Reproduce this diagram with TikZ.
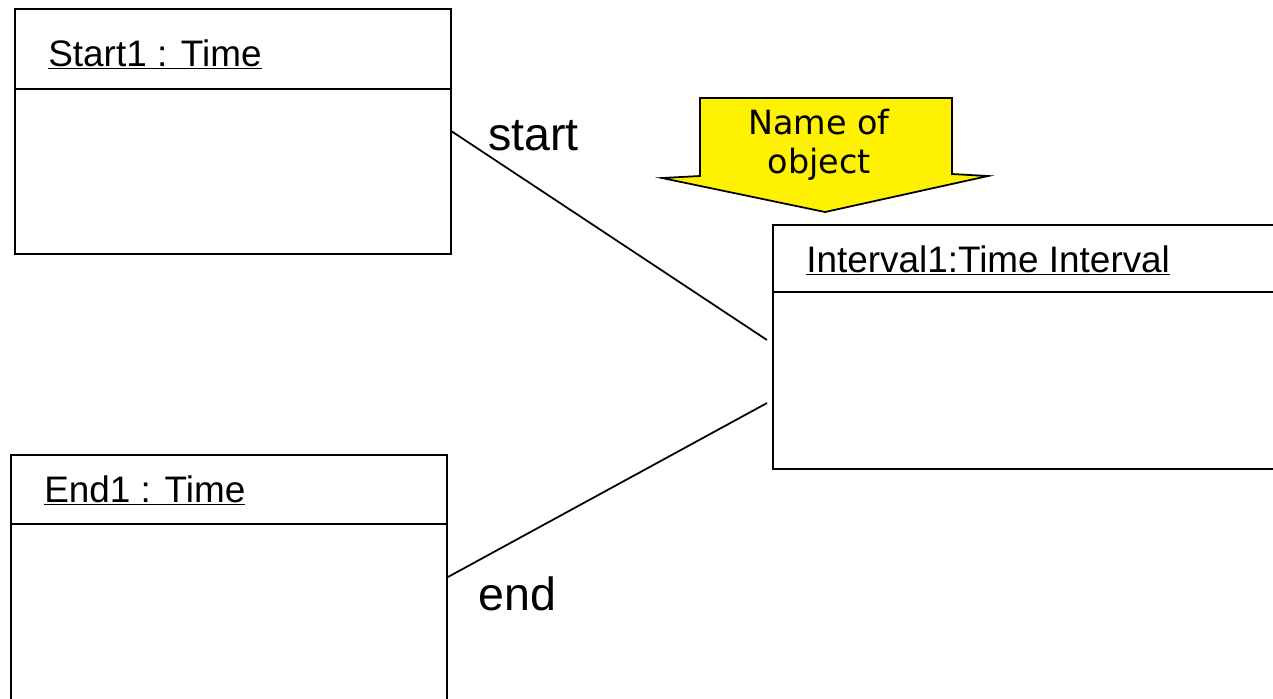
\documentclass[tikz,border=0pt]{standalone}
\usepackage{fontspec}
\setmainfont{Liberation Sans}
\newfontfamily\notefont{DejaVu Sans}

\begin{document}
\begin{tikzpicture}[x=0.02cm, y=-0.02cm,
    objbox/.style={draw, line width=1.1pt, inner sep=0pt, minimum height=4.9cm},
    objname/.style={anchor=base west, inner sep=0pt, font=\fontsize{21}{25}\selectfont},
    rolename/.style={anchor=base west, inner sep=0pt, font=\fontsize{26.5}{30}\selectfont},
    link/.style={line width=1pt}]
  \useasboundingbox (0,0) rectangle (1273,698);

  \node[objbox, minimum width=8.72cm] (start1) at (233,131.5) {};
  \node[objbox, minimum width=8.72cm] (end1) at (229,577) {};
  \node[objbox, minimum width=10.54cm, minimum height=4.88cm] (interval1) at (1036.5,347) {};

  \draw[line width=1.1pt] (start1.west |- 0,89) -- (start1.east |- 0,89);
  \draw[line width=1.1pt] (end1.west |- 0,524) -- (end1.east |- 0,524);
  \draw[line width=1.1pt] (interval1.west |- 0,292) -- (interval1.east |- 0,292);

  \node[objname] (start1name) at (48,66) {\underline{Start1 : Time}};
  \node[objname] (end1name) at (44,502) {\underline{End1 : Time}};
  \node[objname] (interval1name) at (806,272) {\underline{Interval1:Time Interval}};

  \coordinate (ivtop) at (767,340);
  \coordinate (ivbot) at (767,403);
  \draw[link] (start1.east) -- (ivtop);
  \draw[link] (end1.east) -- (ivbot);

  \node[rolename] (startrole) at (488,150) {start};
  \node[rolename] (endrole) at (478,610) {end};

  \draw[line width=1pt, fill=yellow] (700,98) -- (952,98) -- (952,174) -- (988,176)
    -- (825,212) -- (662,178) -- (700,176) -- cycle;
  \node[font=\notefont\fontsize{19}{22}\selectfont, align=center] (note) at (819,145) {Name of\\object};
\end{tikzpicture}
\end{document}
